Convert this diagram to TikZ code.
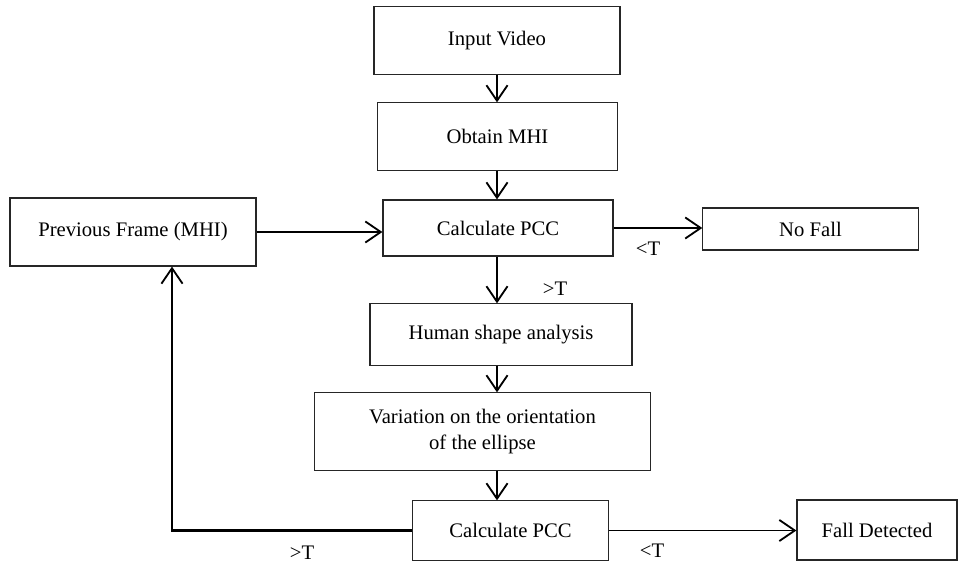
\documentclass[tikz,border=0pt]{standalone}
\usepackage{fontspec}
\setmainfont{Liberation Serif}
\usetikzlibrary{arrows.meta}
\tikzstyle{box}=[draw=black!85,line width=0.8pt,inner sep=0pt,align=center,font=\fontsize{14.7}{18}\selectfont]
\tikzstyle{flow}=[line width=1.3pt,-{Straight Barb[length=11pt,width=15pt,line width=1.3pt]}]
\tikzstyle{cond}=[inner sep=0pt,font=\fontsize{14.7}{18}\selectfont]

\begin{document}
\begin{tikzpicture}[x=0.025cm,y=-0.025cm]
	\useasboundingbox (0,0) rectangle (961,564);
	\coordinate (spine) at (497,0);
	\coordinate (loop) at (172,0);
	\node[box,minimum width=6.15cm,minimum height=1.68cm] (video) at (497,40.5) {Input Video};
	\node[box,minimum width=5.98cm,minimum height=1.68cm] (mhi) at (497.5,136.5) {Obtain MHI};
	\node[box,minimum width=5.75cm,minimum height=1.4cm] (pcc) at (498,228) {Calculate PCC};
	\node[box,minimum width=6.15cm,minimum height=1.7cm] (prev) at (133,232) {Previous Frame (MHI)};
	\node[box,minimum width=5.38cm,minimum height=1.05cm] (nofall) at (810.5,229) {No Fall};
	\node[box,minimum width=6.55cm,minimum height=1.53cm] (shape) at (501,334.5) {Human shape analysis};
	\node[box,minimum width=8.38cm,minimum height=1.93cm] (orient) at (482.5,431.5) {Variation on the orientation\\of the ellipse};
	\node[box,minimum width=4.88cm,minimum height=1.48cm] (pccb) at (510.5,530.5) {Calculate PCC};
	\node[box,minimum width=4cm,minimum height=1.5cm] (fall) at (877,530) {Fall Detected};

	\draw[flow] (video.south -| spine) -- (mhi.north -| spine);
	\draw[flow] (mhi.south -| spine) -- (pcc.north -| spine);
	\draw[flow] (pcc.south -| spine) -- (shape.north -| spine);
	\draw[flow] (shape.south -| spine) -- (orient.north -| spine);
	\draw[flow] (orient.south -| spine) -- (pccb.north -| spine);
	\draw[flow] (prev.east) -- (prev.east -| pcc.west);
	\draw[flow] (pcc.east) -- (pcc.east -| nofall.west);
	\draw[flow] (pccb.east) -- (pccb.east -| fall.west);
	\draw[flow,line width=2pt] (pccb.west) -| (prev.south -| loop);

	\node[cond] (lt1) at (648,249) {<T};
	\node[cond] (gt1) at (555,289) {>T};
	\node[cond] (lt2) at (652,551) {<T};
	\node[cond] (gt2) at (302,553) {>T};
\end{tikzpicture}
\end{document}
